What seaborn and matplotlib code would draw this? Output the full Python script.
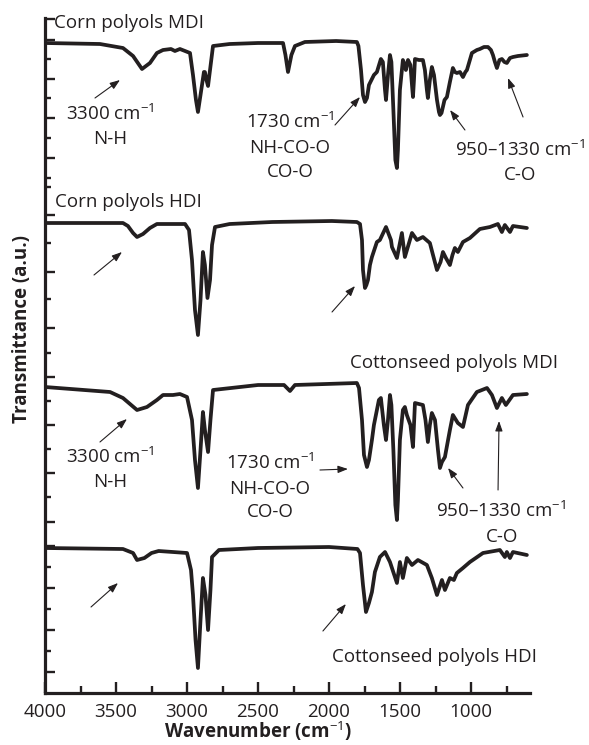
import numpy as np
import pandas as pd
import matplotlib
matplotlib.use("Agg")
import matplotlib.pyplot as plt
import seaborn as sns

# ---------------- data (wavenumber in cm-1, transmittance in a.u.) ----------------
corn_mdi_wn = [4000, 3613, 3451, 3380, 3317, 3261, 3212, 3169, 3113, 3085, 3050, 3014, 2979, 2958, 2937,
               2923, 2905, 2881, 2874, 2863, 2852, 2838, 2817, 2700, 2500, 2324, 2307, 2289, 2265, 2240,
               2170, 1950, 1804, 1793, 1775, 1761, 1747, 1733, 1719, 1684, 1663, 1635, 1621, 1606, 1599,
               1585, 1571, 1561, 1547, 1533, 1522, 1515, 1501, 1480, 1466, 1459, 1444, 1427, 1416, 1409,
               1402, 1395, 1367, 1339, 1325, 1311, 1304, 1290, 1276, 1261, 1240, 1226, 1219, 1208, 1187,
               1170, 1149, 1128, 1114, 1100, 1078, 1057, 1040, 1029, 994, 959, 938, 909, 881, 860, 846,
               832, 818, 800, 783, 765, 748, 726, 705, 670, 607]
corn_mdi_t = [130, 129, 125, 117, 104, 110, 120, 123, 124, 122, 124, 122, 120, 98, 73,
              61, 78, 101, 101, 93, 87, 103, 127, 129, 130, 130, 118, 101, 118, 127,
              131, 132, 131, 127, 103, 78, 71, 75, 88, 98, 101, 114, 111, 83, 73,
              98, 118, 111, 63, 13, 5, 23, 83, 113, 108, 103, 113, 108, 88, 76,
              93, 114, 113, 113, 103, 83, 75, 93, 106, 98, 73, 61, 58, 60, 73,
              76, 91, 105, 101, 100, 101, 96, 101, 103, 120, 123, 124, 126, 126, 123, 118,
              111, 105, 113, 114, 111, 110, 115, 116, 117, 118]

corn_hdi_wn = [4000, 3451, 3416, 3380, 3352, 3310, 3261, 3212, 3014, 2986, 2965, 2944, 2923, 2905, 2888,
               2874, 2856, 2838, 2824, 2803, 2700, 2400, 1980, 1804, 1782, 1768, 1761, 1747, 1737, 1726,
               1712, 1698, 1670, 1663, 1642, 1599, 1564, 1557, 1522, 1487, 1466, 1416, 1381, 1339, 1290,
               1268, 1240, 1215, 1198, 1177, 1149, 1131, 1114, 1093, 1057, 1008, 938, 867, 811, 783,
               762, 726, 705, 607]
corn_hdi_t = [130, 130, 127, 120, 116, 119, 125, 129, 129, 123, 93, 43, 18, 53, 101,
              88, 55, 73, 108, 126, 129, 131, 132, 131, 129, 113, 83, 65, 68, 73,
              88, 96, 108, 111, 113, 126, 113, 106, 95, 120, 96, 120, 113, 116, 110,
              98, 83, 91, 101, 95, 88, 98, 105, 101, 111, 115, 124, 126, 129, 121,
              128, 121, 127, 125]

cotton_mdi_wn = [4000, 3542, 3451, 3352, 3282, 3212, 3169, 3099, 3050, 3000, 2965, 2944, 2923, 2905, 2888,
                 2874, 2852, 2835, 2817, 2500, 2317, 2275, 2240, 1804, 1789, 1768, 1754, 1733, 1719, 1698,
                 1684, 1649, 1635, 1614, 1599, 1585, 1571, 1561, 1547, 1533, 1522, 1515, 1501, 1480, 1466,
                 1452, 1427, 1409, 1395, 1339, 1321, 1304, 1290, 1276, 1254, 1233, 1219, 1205, 1184, 1149,
                 1128, 1093, 1057, 1022, 959, 888, 853, 818, 783, 755, 705, 607]
cotton_mdi_t = [130, 125, 119, 107, 110, 117, 122, 122, 123, 120, 97, 57, 29, 67, 105,
                87, 65, 97, 127, 132, 132, 126, 132, 134, 129, 97, 62, 50, 57, 77,
                92, 117, 119, 92, 77, 97, 122, 112, 67, 12, -3, 17, 77, 107, 110,
                102, 92, 70, 114, 112, 97, 75, 92, 104, 97, 67, 49, 55, 60, 87,
                102, 94, 90, 112, 125, 129, 122, 109, 119, 112, 122, 123]

cotton_hdi_wn = [4000, 3451, 3380, 3352, 3300, 3250, 3200, 3000, 2972, 2958, 2940, 2923, 2905, 2888, 2870,
                 2852, 2835, 2824, 2775, 2500, 2000, 1800, 1782, 1761, 1740, 1719, 1698, 1677, 1642, 1606,
                 1571, 1522, 1501, 1480, 1452, 1416, 1374, 1311, 1276, 1240, 1205, 1184, 1149, 1121, 1100,
                 1057, 1008, 916, 797, 762, 748, 726, 705, 607]
cotton_hdi_t = [132, 131, 127, 120, 122, 127, 129, 127, 110, 85, 40, 12, 60, 102, 85,
                50, 90, 123, 130, 132, 133, 131, 127, 95, 68, 77, 88, 108, 123, 128,
                118, 97, 118, 102, 122, 115, 120, 115, 102, 85, 100, 90, 102, 100, 107,
                112, 118, 127, 130, 123, 128, 122, 128, 125]

x_major = [4000, 3500, 3000, 2500, 2000, 1500, 1000]
x_minor = [3750, 3250, 2750, 2250, 1750, 1250, 750]

# ---------------- style ----------------
sns.set_theme(style="ticks")
plt.rcParams["font.family"] = ["Open Sans", "DejaVu Sans"]
plt.rcParams["mathtext.fontset"] = "custom"
plt.rcParams["mathtext.rm"] = "Open Sans"
plt.rcParams["mathtext.it"] = "Open Sans:italic"
plt.rcParams["mathtext.bf"] = "Open Sans:bold"

FS = 13.5
INK = "#231f20"

fig = plt.figure(figsize=(5.89, 7.45), dpi=100)
ax = fig.add_axes([45 / 589, 52 / 745, 485 / 589, 675 / 745])

spectra = [
    ("Corn polyols MDI", corn_mdi_wn, corn_mdi_t, 520),
    ("Corn polyols HDI", corn_hdi_wn, corn_hdi_t, 340),
    ("Cottonseed polyols MDI", cotton_mdi_wn, cotton_mdi_t, 176),
    ("Cottonseed polyols HDI", cotton_hdi_wn, cotton_hdi_t, 13),
]
for name, wn, t, off in spectra:
    df = pd.DataFrame({"wn": wn, "T": np.asarray(t, dtype=float) + off})
    sns.lineplot(data=df, x="wn", y="T", ax=ax, color=INK, lw=2.7, sort=False,
                 estimator=None, solid_joinstyle="round", solid_capstyle="round")

ax.set_xlim(4000, 585)
ax.set_ylim(0, 675)
ax.set_xlabel("")
ax.set_ylabel("")

ax.set_xticks(x_major)
ax.set_xticklabels([str(v) for v in x_major])
ax.set_xticks(x_minor, minor=True)

y_major = [674, 653, 614, 575, 535, 478, 421, 365, 316, 268, 220, 171, 147, 105, 63, 21]
y_minor = [634, 595, 555, 515, 506, 450, 394, 340, 292, 244, 196, 126, 84, 42]
ax.set_yticks(y_major)
ax.set_yticks(y_minor, minor=True)
ax.set_yticklabels([])

ax.tick_params(axis="x", which="major", direction="in", length=8, width=1.7,
               labelsize=FS, pad=7, colors=INK)
ax.tick_params(axis="x", which="minor", direction="in", length=5, width=1.7, colors=INK)
ax.tick_params(axis="y", which="major", direction="in", length=7, width=1.7, colors=INK)
ax.tick_params(axis="y", which="minor", direction="in", length=4.5, width=1.7, colors=INK)

for s in ("top", "right"):
    ax.spines[s].set_visible(False)
for s in ("left", "bottom"):
    ax.spines[s].set_linewidth(2.3)
    ax.spines[s].set_color(INK)

CM = r"cm$^{-1}$"


def txt(x, y, s, ha="center"):
    ax.text(x, y, s, ha=ha, va="baseline", fontsize=FS, color=INK, clip_on=False)


def arrow(tail, head):
    ax.annotate("", xy=head, xytext=tail,
                arrowprops=dict(arrowstyle="-|>,head_length=0.6,head_width=0.22",
                                lw=0.8, color=INK, shrinkA=0, shrinkB=0,
                                mutation_scale=10))


# panel 1
txt(3937, 665, "Corn polyols MDI", ha="left")
txt(3542, 573, "3300 " + CM)
txt(3542, 549, "N-H")
arrow((3648, 595), (3472, 613))
txt(2275, 565, "1730 " + CM)
txt(2275, 540, "NH-CO-O")
txt(2275, 516, "CO-O")
arrow((1958, 568), (1782, 596))
txt(656, 537, "950\u20131330 " + CM)
txt(656, 513, "C-O")
arrow((1043, 563), (1148, 583))
arrow((634, 576), (740, 615))

# panel 2
txt(3930, 486, "Corn polyols HDI", ha="left")
arrow((3655, 418), (3458, 441))
arrow((1979, 381), (1817, 407))
txt(1853, 325, "Cottonseed polyols MDI", ha="left")

# panel 3
txt(3542, 230, "3300 " + CM)
txt(3542, 206, "N-H")
arrow((3613, 251), (3423, 274))
txt(2416, 224, "1730 " + CM)
txt(2416, 199, "NH-CO-O")
txt(2416, 176, "CO-O")
arrow((2064, 223), (1867, 224))
txt(789, 176, "950\u20131330 " + CM)
txt(782, 151, "C-O")
arrow((1057, 205), (1162, 225))
arrow((810, 203), (803, 272))

# panel 4
arrow((3676, 86), (3486, 110))
arrow((2043, 62), (1881, 89))
txt(1979, 31, "Cottonseed polyols HDI", ha="left")

# axis titles
fig.text(258 / 589, 1 - 738 / 745, r"Wavenumber (cm$^{-1}$)", ha="center", va="baseline",
         fontsize=FS, fontweight="bold", color=INK)
fig.text(22 / 589, 1 - 329 / 745, "Transmittance (a.u.)", ha="center", va="center",
         rotation=90, fontsize=FS, fontweight="bold", color=INK)

fig.savefig("out.png", dpi=100)
